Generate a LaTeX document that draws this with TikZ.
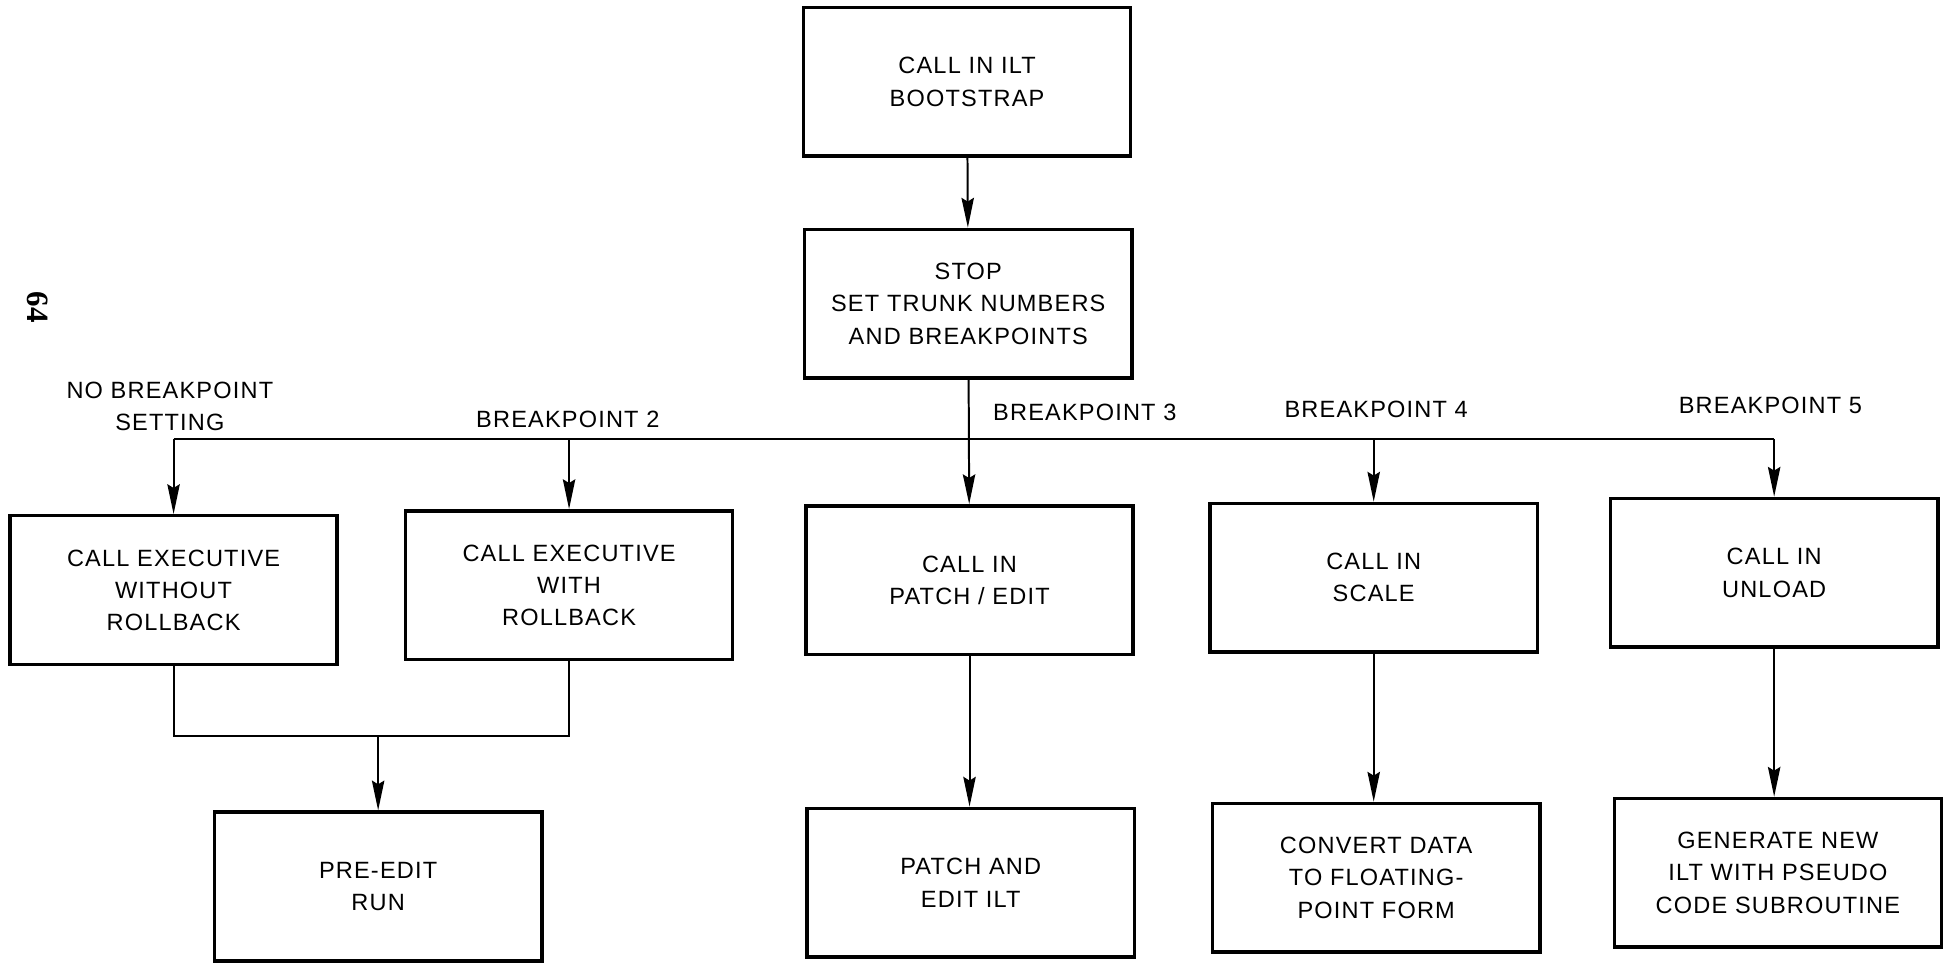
\documentclass[tikz,border=0pt]{standalone}
\usepackage{fontspec}
\setmainfont[LetterSpace=5]{Liberation Sans}
\newfontfamily\pagefont{Liberation Serif}
\usetikzlibrary{arrows.meta}
\def\boxW{264pt}
\def\boxH{120pt}
\def\busY{-354}
\def\joinY{-594}
\def\txt{\fontsize{19}{26}\selectfont}

\begin{document}
\begin{tikzpicture}[
    x=1pt, y=1pt,
    box/.style={
      draw, line width=2.8pt, minimum width=\boxW, minimum height=\boxH,
      align=center, inner sep=2pt, font=\txt
    },
    lbl/.style={
      align=center, font=\txt
    },
    wire/.style={
      line width=1.6pt
    },
    arrowtip/.style={
      wire, -{Stealth[length=24pt,width=10pt,inset=3pt]}
    }
  ]
    \useasboundingbox (0,0) rectangle (1568,-779);

    \node[box] (boot)     at (780,-66)   {CALL IN ILT\\BOOTSTRAP};
    \node[box] (stop)     at (781,-245)  {STOP\\SET TRUNK NUMBERS\\AND BREAKPOINTS};
    \node[box] (noroll)   at (140,-476)  {CALL EXECUTIVE\\WITHOUT\\ROLLBACK};
    \node[box] (roll)     at (459,-472)  {CALL EXECUTIVE\\WITH\\ROLLBACK};
    \node[box] (patch)    at (782,-468)  {CALL IN\\PATCH / EDIT};
    \node[box] (scale)    at (1108,-466) {CALL IN\\SCALE};
    \node[box] (unload)   at (1431,-462) {CALL IN\\UNLOAD};
    \node[box] (preedit)  at (305,-715)  {PRE-EDIT\\RUN};
    \node[box] (patchilt) at (783,-712)  {PATCH AND\\EDIT ILT};
    \node[box] (convert)  at (1110,-708) {CONVERT DATA\\TO FLOATING-\\POINT FORM};
    \node[box] (newilt)   at (1434,-704) {GENERATE NEW\\ILT WITH PSEUDO\\CODE SUBROUTINE};

    \node[lbl] (bpnone) at (137,-328)  {NO BREAKPOINT\\SETTING};
    \node[lbl] (bptwo)  at (458,-338)  {BREAKPOINT 2};
    \node[lbl] (bpthree) at (875,-333) {BREAKPOINT 3};
    \node[lbl] (bpfour) at (1110,-330) {BREAKPOINT 4};
    \node[lbl] (bpfive) at (1428,-327) {BREAKPOINT 5};

    \node[rotate=-90, font=\pagefont\bfseries\fontsize{25}{25}\selectfont] (page) at (30,-248) {64};

    \coordinate (bus) at (0,\busY);
    \coordinate (join) at (0,\joinY);

    \draw[arrowtip] (boot) -- (stop);
    \draw[arrowtip] (stop) -- (patch);
    \draw[wire] (noroll.north |- bus) -- (unload.north |- bus);
    \foreach \n in {noroll,roll,scale,unload} {
      \draw[arrowtip] (\n.north |- bus) -- (\n.north);
    }

    \draw[wire] (noroll.south) -- (noroll.south |- join) -- (roll.south |- join) -- (roll.south);
    \draw[arrowtip] (preedit.north |- join) -- (preedit.north);

    \foreach \a / \b in {patch/patchilt,scale/convert,unload/newilt} {
      \draw[arrowtip] (\a.south) -- (\a.south |- \b.north);
    }
  \end{tikzpicture}
\end{document}
